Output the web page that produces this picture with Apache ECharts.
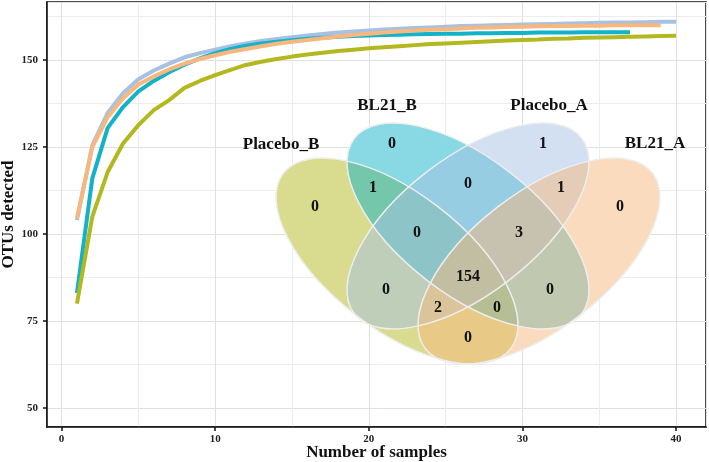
<!DOCTYPE html>
<html>
<head>
<meta charset="utf-8">
<script src="https://cdn.jsdelivr.net/npm/echarts@6/dist/echarts.min.js"></script>
<style>
  html, body { margin: 0; padding: 0; background: #fff; }
  #main { width: 709px; height: 462px; }
</style>
</head>
<body>
<div id="main"></div>
<script>
// rarefaction curves, one value per number of samples
var samples = [1, 2, 3, 4, 5, 6, 7, 8, 9, 10, 11, 12, 13, 14, 15, 16, 17, 18, 19, 20,
  21, 22, 23, 24, 25, 26, 27, 28, 29, 30, 31, 32, 33, 34, 35, 36, 37, 38, 39, 40];
var placeboA = [104, 125.5, 134.8, 140.5, 144.5, 147, 149, 150.8, 152, 153, 154, 154.8, 155.5, 156.1, 156.6,
  157.1, 157.5, 157.9, 158.2, 158.5, 158.8, 159, 159.2, 159.4, 159.6, 159.8, 159.9, 160, 160.1, 160.2,
  160.3, 160.4, 160.5, 160.6, 160.7, 160.8, 160.8, 160.9, 161, 161];
var bl21A = [104.5, 125, 133.6, 139, 143, 145.3, 147.3, 149, 150.3, 151.4, 152.4, 153.2, 154, 154.7, 155.3,
  155.8, 156.3, 156.8, 157.2, 157.6, 157.9, 158.2, 158.5, 158.7, 158.9, 159.1, 159.3, 159.4, 159.5, 159.6,
  159.7, 159.8, 159.8, 159.9, 159.9, 160, 160, 160, 160];
var bl21B = [83, 116, 130.5, 136.5, 141, 144, 146.5, 148.7, 150.5, 152, 153.2, 154.1, 154.8, 155.3, 155.7,
  156.1, 156.4, 156.7, 156.9, 157.1, 157.2, 157.3, 157.4, 157.5, 157.6, 157.6, 157.7, 157.7, 157.8, 157.8,
  157.9, 157.9, 157.9, 158, 158, 158, 158];
var placeboB = [80, 105, 117.8, 126, 131.3, 135.6, 138.5, 142, 144, 145.7, 147.2, 148.6, 149.5, 150.3, 151,
  151.6, 152.1, 152.6, 153, 153.4, 153.7, 154, 154.3, 154.6, 154.8, 155, 155.2, 155.4, 155.6, 155.8,
  155.9, 156.1, 156.2, 156.4, 156.5, 156.6, 156.7, 156.8, 156.9, 157];

var xTicks = [0, 10, 20, 30, 40];
var yTicks = [50, 75, 100, 125, 150];

// venn: sets and region counts
var setNames = ['Placebo_B', 'BL21_B', 'Placebo_A', 'BL21_A'];
var setColors = ['#b3b81f', '#12b3c8', '#a6c1e3', '#f8b77c'];
var vennRegions = ['PB', 'BB', 'PA', 'BA', 'PB+BB', 'BB+PA', 'PA+BA', 'PB+BB+PA', 'BB+PA+BA',
  'ALL', 'PB+PA', 'BB+BA', 'PB+PA+BA', 'PB+BB+BA', 'PB+BA'];
var vennCounts = [0, 0, 1, 0, 1, 0, 1, 0, 3, 154, 0, 0, 2, 0, 0];

// venn layout in pixels (it is an inset picture, not on the axes)
var vennEllipses = [
  { cx: 397, cy: 261, rot: -0.658 },
  { cx: 468, cy: 226, rot: -0.658 },
  { cx: 468, cy: 226, rot: 0.658 },
  { cx: 539, cy: 261, rot: 0.658 }
];
var vennRx = 143.6, vennRy = 68;
var vennNamePos = [[281, 145], [387, 106], [549, 106], [655, 144]];
var vennCountPos = [[315, 207], [392, 144], [543, 144], [620, 207], [373, 188], [468, 184], [561, 188],
  [417, 233], [519, 233], [468, 277], [386, 290], [550, 290], [438, 308], [497, 308], [468, 338]];

var serif = '"Liberation Serif", "DejaVu Serif", serif';
var ink = '#111';

function pairs(vals) {
  return vals.map(function (v, i) { return [samples[i], v]; });
}

var graphics = [];
vennEllipses.forEach(function (e) {
  graphics.push({ type: 'ellipse', x: e.cx, y: e.cy, rotation: e.rot, z: 10,
    shape: { cx: 0, cy: 0, rx: vennRx, ry: vennRy }, style: { fill: '#fff' } });
});
vennEllipses.forEach(function (e, i) {
  graphics.push({ type: 'ellipse', x: e.cx, y: e.cy, rotation: e.rot, z: 11,
    shape: { cx: 0, cy: 0, rx: vennRx, ry: vennRy }, style: { fill: setColors[i], opacity: 0.5 } });
});
vennEllipses.forEach(function (e) {
  graphics.push({ type: 'ellipse', x: e.cx, y: e.cy, rotation: e.rot, z: 12,
    shape: { cx: 0, cy: 0, rx: vennRx, ry: vennRy },
    style: { fill: 'none', stroke: '#eeeeee', lineWidth: 1.5 } });
});
vennCounts.forEach(function (c, i) {
  graphics.push({ type: 'text', x: vennCountPos[i][0], y: vennCountPos[i][1], z: 13,
    style: { text: String(c), fill: ink, fontFamily: serif, fontWeight: 'bold', fontSize: 16,
      align: 'center', verticalAlign: 'middle', textAlign: 'center', textVerticalAlign: 'middle' } });
});
setNames.forEach(function (n, i) {
  graphics.push({ type: 'text', x: vennNamePos[i][0], y: vennNamePos[i][1], z: 13,
    style: { text: n, fill: ink, fontFamily: serif, fontWeight: 'bold', fontSize: 17,
      align: 'center', verticalAlign: 'middle', textAlign: 'center', textVerticalAlign: 'middle' } });
});

function gridAxis(min, max, step, color, pos) {
  return {
    type: 'value', min: min, max: max, minInterval: step, maxInterval: step, position: pos,
    axisLine: { show: false }, axisTick: { show: false }, axisLabel: { show: false },
    splitLine: { show: true, lineStyle: { color: color, width: 1 } }
  };
}

var chart = echarts.init(document.getElementById('main'));
chart.setOption({
  animation: false,
  backgroundColor: '#fff',
  grid: { left: 47, right: 3, top: 2, bottom: 35, outerBoundsMode: 'none', containLabel: false,
    show: true, borderColor: ink, borderWidth: 1.5 },
  xAxis: [
    {
      type: 'value', min: -0.95, max: 41.95, position: 'bottom',
      name: 'Number of samples', nameLocation: 'middle', nameGap: 17, nameMoveOverlap: false,
      nameTextStyle: { fontFamily: serif, fontWeight: 'bold', fontSize: 17, color: ink },
      axisLine: { show: true, onZero: false, lineStyle: { color: ink, width: 1.5 } },
      axisTick: { show: true, length: 4, customValues: xTicks, lineStyle: { color: ink, width: 1.5 } },
      axisLabel: { customValues: xTicks, margin: 7, fontFamily: serif, fontWeight: 'bold', fontSize: 11, color: '#222' },
      splitLine: { show: false }
    },
    gridAxis(-0.95, 41.95, 5, '#ececec', 'bottom'),
    gridAxis(-0.95, 41.95, 10, '#e0e0e0', 'bottom')
  ],
  yAxis: [
    {
      type: 'value', min: 44.5, max: 166.7, position: 'left',
      name: 'OTUs detected', nameLocation: 'middle', nameGap: 30, nameMoveOverlap: false,
      nameTextStyle: { fontFamily: serif, fontWeight: 'bold', fontSize: 17, color: ink },
      axisLine: { show: true, onZero: false, lineStyle: { color: ink, width: 1.5 } },
      axisTick: { show: true, length: 4, customValues: yTicks, lineStyle: { color: ink, width: 1.5 } },
      axisLabel: { customValues: yTicks, margin: 9, fontFamily: serif, fontWeight: 'bold', fontSize: 11, color: '#222' },
      splitLine: { show: false }
    },
    gridAxis(44.5, 166.7, 12.5, '#ececec', 'left'),
    gridAxis(44.5, 166.7, 25, '#e0e0e0', 'left')
  ],
  series: [
    { name: 'Placebo_A', type: 'line', data: pairs(placeboA), showSymbol: false, z: 2,
      lineStyle: { color: setColors[2], width: 4 } },
    { name: 'BL21_B', type: 'line', data: pairs(bl21B), showSymbol: false, z: 3,
      lineStyle: { color: setColors[1], width: 4 } },
    { name: 'BL21_A', type: 'line', data: pairs(bl21A), showSymbol: false, z: 4,
      lineStyle: { color: setColors[3], width: 4 } },
    { name: 'Placebo_B', type: 'line', data: pairs(placeboB), showSymbol: false, z: 5,
      lineStyle: { color: setColors[0], width: 4 } }
  ],
  graphic: graphics
});
</script>
</body>
</html>
